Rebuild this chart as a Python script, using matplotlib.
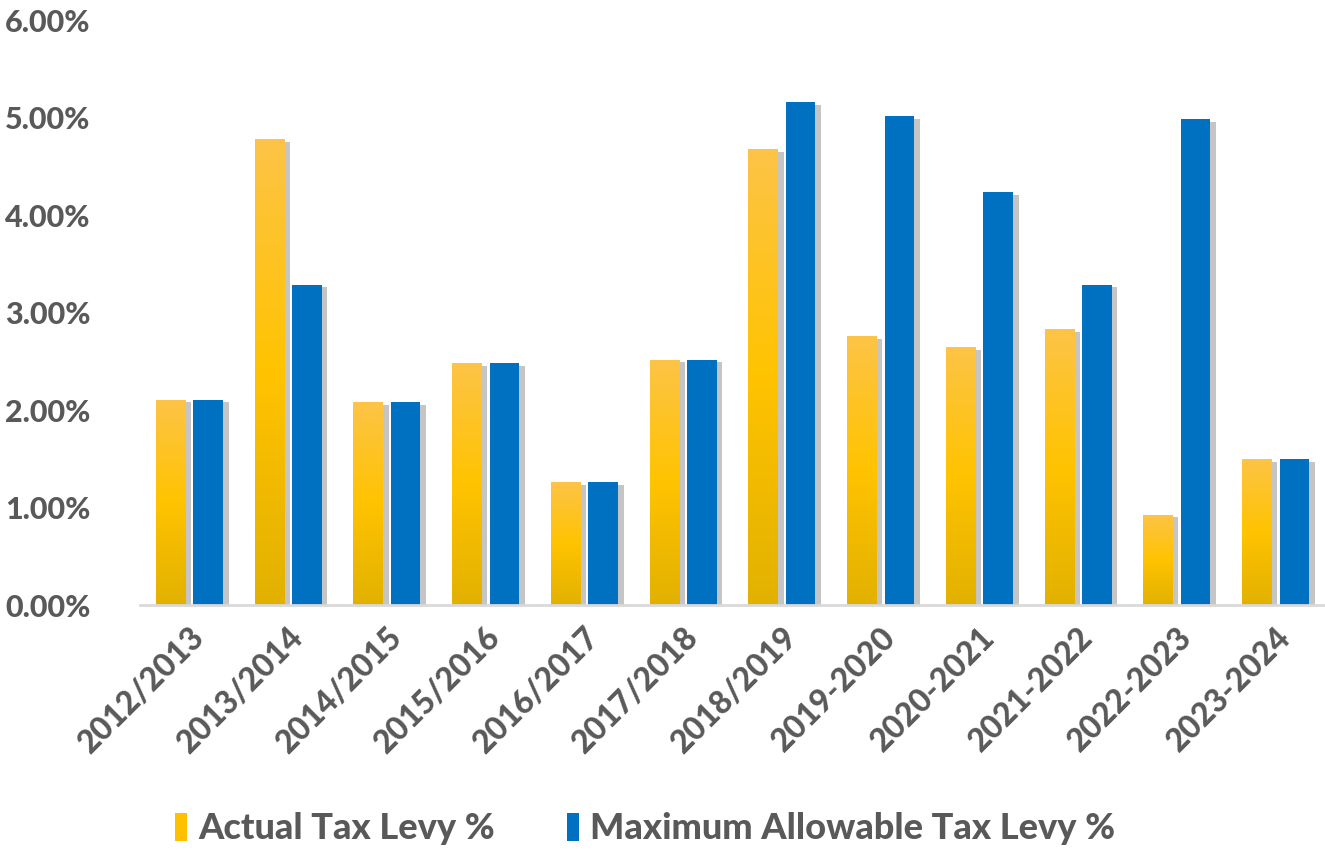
import numpy as np
import matplotlib
matplotlib.use("Agg")
import matplotlib.pyplot as plt
import matplotlib.patheffects as pe
from matplotlib.colors import LinearSegmentedColormap
from matplotlib.patches import Patch

# Data
years = ["2012/2013", "2013/2014", "2014/2015", "2015/2016", "2016/2017", "2017/2018",
         "2018/2019", "2019-2020", "2020-2021", "2021-2022", "2022-2023", "2023-2024"]
actual_levy = [2.11, 4.78, 2.08, 2.48, 1.26, 2.52, 4.68, 2.76, 2.65, 2.83, 0.93, 1.50]
max_levy = [2.11, 3.29, 2.08, 2.48, 1.26, 2.52, 5.16, 5.02, 4.24, 3.29, 4.99, 1.50]

text_col = "#595959"
blue = "#0070C0"
gold_cmap = LinearSegmentedColormap.from_list("gold", ["#E2B100", "#FFC300", "#FDC447"])

fig = plt.figure(figsize=(13.25, 8.5), dpi=100)
ax = fig.add_axes([0.1057, 0.288, 0.8943, 0.688])

x = np.arange(len(years))
w = 0.30
off = 0.19
shadow = [pe.SimplePatchShadow(offset=(4, -2), shadow_rgbFace="#7f7f7f", alpha=0.45), pe.Normal()]

bars_a = ax.bar(x - off, actual_levy, w, color="#FFC000", zorder=2, path_effects=shadow)
bars_m = ax.bar(x + off, max_levy, w, color=blue, zorder=2, path_effects=shadow)

# gradient fill for the gold bars
grad = np.linspace(0, 1, 256).reshape(-1, 1)
for b in bars_a:
    x0, y0 = b.get_x(), b.get_y()
    im = ax.imshow(grad, cmap=gold_cmap, aspect="auto", origin="lower",
                   extent=[x0, x0 + b.get_width(), y0, y0 + b.get_height()], zorder=3)
    im.set_clip_path(b)

ax.set_xlim(-0.5, len(years) - 0.5)
ax.set_ylim(0, 6)
ax.set_yticks(np.arange(0, 7, 1))
ax.set_yticklabels([f"{v:.2f}%" for v in range(7)], fontfamily="Lato",
                   fontweight="black", fontsize=22, color=text_col)
ax.set_xticks(x)
ax.set_xticklabels(years, rotation=45, ha="right", rotation_mode="anchor",
                   fontfamily="Lato", fontweight="black", fontsize=23, color=text_col)
ax.tick_params(axis="both", length=0)
ax.tick_params(axis="x", pad=12)
for s in ["top", "right", "left"]:
    ax.spines[s].set_visible(False)
ax.spines["bottom"].set_color("#D9D9D9")
ax.spines["bottom"].set_linewidth(2)
ax.spines["bottom"].set_zorder(4)
for lbl in ax.get_yticklabels():
    lbl.set_horizontalalignment("left")
ax.yaxis.set_tick_params(pad=97)

handles = [Patch(facecolor="#FFC000", label="Actual Tax Levy %"),
           Patch(facecolor=blue, label="Maximum Allowable Tax Levy %")]
leg = fig.legend(handles=handles, loc="center", bbox_to_anchor=(0.487, 0.025), ncol=2,
                 frameon=False, handlelength=0.33, handleheight=0.8, handletextpad=0.3,
                 columnspacing=2.0, prop={"family": "Lato", "weight": "black", "size": 26})
for t in leg.get_texts():
    t.set_color(text_col)

fig.savefig("out.png", dpi=100)
